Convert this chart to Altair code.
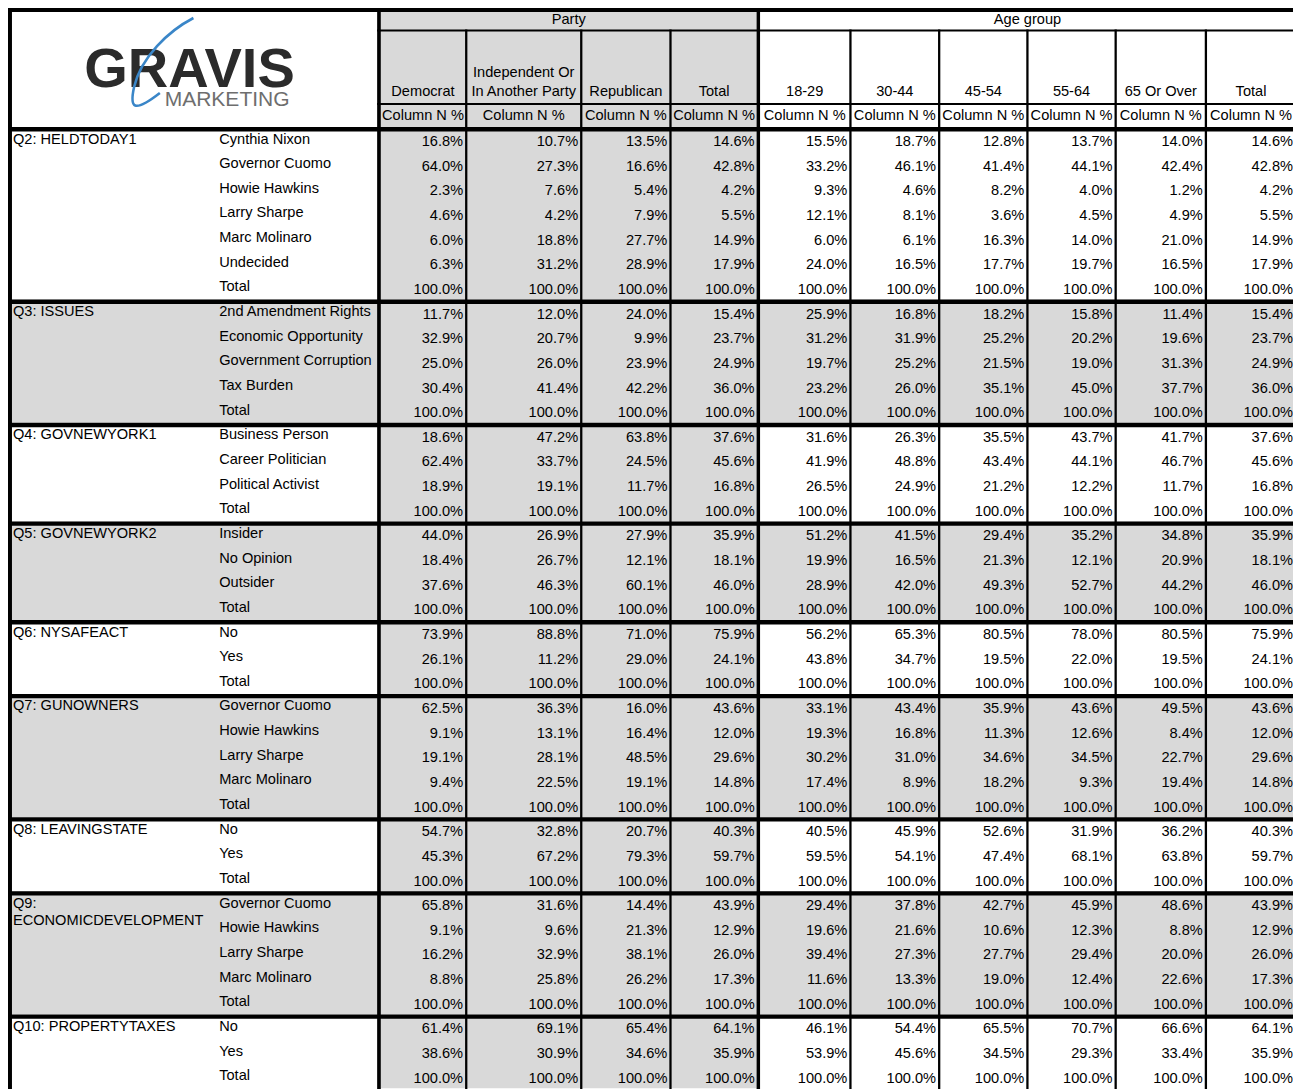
import altair as alt
import pandas as pd

# ---------------- data ----------------
party_title = "Party"
age_title = "Age group"
party_cols = ["Democrat", "Independent Or\nIn Another Party", "Republican", "Total"]
age_cols = ["18-29", "30-44", "45-54", "55-64", "65 Or Over", "Total"]
stat_label = "Column N %"
logo_word = "GRAVIS"
logo_sub = "MARKETING"

questions = ["Q2: HELDTODAY1", "Q3: ISSUES", "Q4: GOVNEWYORK1", "Q5: GOVNEWYORK2",
             "Q6: NYSAFEACT", "Q7: GUNOWNERS", "Q8: LEAVINGSTATE",
             "Q9: ECONOMICDEVELOPMENT", "Q10: PROPERTYTAXES"]

q2_options = ["Cynthia Nixon", "Governor Cuomo", "Howie Hawkins", "Larry Sharpe", "Marc Molinaro", "Undecided", "Total"]
q2_party = [[16.8, 10.7, 13.5, 14.6], [64.0, 27.3, 16.6, 42.8], [2.3, 7.6, 5.4, 4.2], [4.6, 4.2, 7.9, 5.5],
            [6.0, 18.8, 27.7, 14.9], [6.3, 31.2, 28.9, 17.9], [100.0, 100.0, 100.0, 100.0]]
q2_age = [[15.5, 18.7, 12.8, 13.7, 14.0, 14.6], [33.2, 46.1, 41.4, 44.1, 42.4, 42.8], [9.3, 4.6, 8.2, 4.0, 1.2, 4.2],
          [12.1, 8.1, 3.6, 4.5, 4.9, 5.5], [6.0, 6.1, 16.3, 14.0, 21.0, 14.9], [24.0, 16.5, 17.7, 19.7, 16.5, 17.9],
          [100.0, 100.0, 100.0, 100.0, 100.0, 100.0]]

q3_options = ["2nd Amendment Rights", "Economic Opportunity", "Government Corruption", "Tax Burden", "Total"]
q3_party = [[11.7, 12.0, 24.0, 15.4], [32.9, 20.7, 9.9, 23.7], [25.0, 26.0, 23.9, 24.9], [30.4, 41.4, 42.2, 36.0],
            [100.0, 100.0, 100.0, 100.0]]
q3_age = [[25.9, 16.8, 18.2, 15.8, 11.4, 15.4], [31.2, 31.9, 25.2, 20.2, 19.6, 23.7], [19.7, 25.2, 21.5, 19.0, 31.3, 24.9],
          [23.2, 26.0, 35.1, 45.0, 37.7, 36.0], [100.0, 100.0, 100.0, 100.0, 100.0, 100.0]]

q4_options = ["Business Person", "Career Politician", "Political Activist", "Total"]
q4_party = [[18.6, 47.2, 63.8, 37.6], [62.4, 33.7, 24.5, 45.6], [18.9, 19.1, 11.7, 16.8], [100.0, 100.0, 100.0, 100.0]]
q4_age = [[31.6, 26.3, 35.5, 43.7, 41.7, 37.6], [41.9, 48.8, 43.4, 44.1, 46.7, 45.6], [26.5, 24.9, 21.2, 12.2, 11.7, 16.8],
          [100.0, 100.0, 100.0, 100.0, 100.0, 100.0]]

q5_options = ["Insider", "No Opinion", "Outsider", "Total"]
q5_party = [[44.0, 26.9, 27.9, 35.9], [18.4, 26.7, 12.1, 18.1], [37.6, 46.3, 60.1, 46.0], [100.0, 100.0, 100.0, 100.0]]
q5_age = [[51.2, 41.5, 29.4, 35.2, 34.8, 35.9], [19.9, 16.5, 21.3, 12.1, 20.9, 18.1], [28.9, 42.0, 49.3, 52.7, 44.2, 46.0],
          [100.0, 100.0, 100.0, 100.0, 100.0, 100.0]]

q6_options = ["No", "Yes", "Total"]
q6_party = [[73.9, 88.8, 71.0, 75.9], [26.1, 11.2, 29.0, 24.1], [100.0, 100.0, 100.0, 100.0]]
q6_age = [[56.2, 65.3, 80.5, 78.0, 80.5, 75.9], [43.8, 34.7, 19.5, 22.0, 19.5, 24.1], [100.0, 100.0, 100.0, 100.0, 100.0, 100.0]]

q7_options = ["Governor Cuomo", "Howie Hawkins", "Larry Sharpe", "Marc Molinaro", "Total"]
q7_party = [[62.5, 36.3, 16.0, 43.6], [9.1, 13.1, 16.4, 12.0], [19.1, 28.1, 48.5, 29.6], [9.4, 22.5, 19.1, 14.8],
            [100.0, 100.0, 100.0, 100.0]]
q7_age = [[33.1, 43.4, 35.9, 43.6, 49.5, 43.6], [19.3, 16.8, 11.3, 12.6, 8.4, 12.0], [30.2, 31.0, 34.6, 34.5, 22.7, 29.6],
          [17.4, 8.9, 18.2, 9.3, 19.4, 14.8], [100.0, 100.0, 100.0, 100.0, 100.0, 100.0]]

q8_options = ["No", "Yes", "Total"]
q8_party = [[54.7, 32.8, 20.7, 40.3], [45.3, 67.2, 79.3, 59.7], [100.0, 100.0, 100.0, 100.0]]
q8_age = [[40.5, 45.9, 52.6, 31.9, 36.2, 40.3], [59.5, 54.1, 47.4, 68.1, 63.8, 59.7], [100.0, 100.0, 100.0, 100.0, 100.0, 100.0]]

q9_options = ["Governor Cuomo", "Howie Hawkins", "Larry Sharpe", "Marc Molinaro", "Total"]
q9_party = [[65.8, 31.6, 14.4, 43.9], [9.1, 9.6, 21.3, 12.9], [16.2, 32.9, 38.1, 26.0], [8.8, 25.8, 26.2, 17.3],
            [100.0, 100.0, 100.0, 100.0]]
q9_age = [[29.4, 37.8, 42.7, 45.9, 48.6, 43.9], [19.6, 21.6, 10.6, 12.3, 8.8, 12.9], [39.4, 27.3, 27.7, 29.4, 20.0, 26.0],
          [11.6, 13.3, 19.0, 12.4, 22.6, 17.3], [100.0, 100.0, 100.0, 100.0, 100.0, 100.0]]

q10_options = ["No", "Yes", "Total"]
q10_party = [[61.4, 69.1, 65.4, 64.1], [38.6, 30.9, 34.6, 35.9], [100.0, 100.0, 100.0, 100.0]]
q10_age = [[46.1, 54.4, 65.5, 70.7, 66.6, 64.1], [53.9, 45.6, 34.5, 29.3, 33.4, 35.9], [100.0, 100.0, 100.0, 100.0, 100.0, 100.0]]

blocks = [(q2_options, q2_party, q2_age), (q3_options, q3_party, q3_age), (q4_options, q4_party, q4_age),
          (q5_options, q5_party, q5_age), (q6_options, q6_party, q6_age), (q7_options, q7_party, q7_age),
          (q8_options, q8_party, q8_age), (q9_options, q9_party, q9_age), (q10_options, q10_party, q10_age)]

# ---------------- layout (reference pixel coordinates) ----------------
VW, VH = 1285, 1081          # drawable view size
XD = (5, 1301)               # reference x-range squeezed into the view
YD = (8, 1089)               # reference y-range shown 1:1
FONT = "Liberation Sans"
FS = 14.6
GRAY = "#d9d9d9"
BLACK = "#000000"

X0 = 5
LEFT_IN = 9
THICK_A = (377.3, 381.0)
THICK_B = (760.0, 763.5)
party_lines = [466.0, 582.0, 672.0]
age_lines = [853.5, 943.0, 1032.0, 1121.0, 1212.0]
THIN = 2.3
RIGHT_END = 1303.0
party_left = [THICK_A[1]] + [v + THIN for v in party_lines]
party_right = party_lines + [THICK_B[0]]
age_left = [THICK_B[1]] + [v + THIN for v in age_lines]
age_right = age_lines + [RIGHT_END]

TOP_LINE = (8.0, 12.0)
HDR1_LINE = 29.5
HDR2_LINE = 103.0
G0 = 127.0
PITCH = 24.65
SEP = 4.4
BOTTOM = 1095.0

bg, lines, txt_l, txt_r, txt_c = [], [], [], [], []


def rect(store, x, x2, y, y2, fill):
    store.append({"x": x, "x2": x2, "y": y, "y2": y2, "fill": fill})


# header backgrounds
rect(bg, party_left[0], THICK_B[0], TOP_LINE[1], G0, GRAY)

# header texts
txt_c.append({"x": (party_left[0] + THICK_B[0]) / 2, "y": 24, "t": party_title})
txt_c.append({"x": (age_left[0] + RIGHT_END) / 2, "y": 24, "t": age_title})
for names, lefts, rights in ((party_cols, party_left, party_right), (age_cols, age_left, age_right)):
    for name, l, r in zip(names, lefts, rights):
        parts = name.split("\n")
        n = len(parts)
        for i, p in enumerate(parts):
            txt_c.append({"x": (l + r) / 2, "y": 96 - (n - 1 - i) * 19, "t": p})
        txt_c.append({"x": (l + r) / 2, "y": 120, "t": stat_label})

# body
row = 0
for gi, (q, (opts, pv, av)) in enumerate(zip(questions, blocks)):
    top = G0 + row * PITCH
    bottom = G0 + (row + len(opts)) * PITCH
    if gi % 2 == 1:
        rect(bg, LEFT_IN, RIGHT_END, top, bottom, GRAY)
    else:
        rect(bg, party_left[0], THICK_B[0], top, bottom, GRAY)
    qlines = q.replace(": ", ":\n").split("\n") if len(q) > 20 else [q]
    for i, ql in enumerate(qlines):
        txt_l.append({"x": 10, "y": top + 16.5 + i * 17, "t": ql})
    for k, opt in enumerate(opts):
        rt = G0 + (row + k) * PITCH
        txt_l.append({"x": 218, "y": rt + 16.5, "t": opt})
        for v, r in zip(pv[k], party_right):
            txt_r.append({"x": r - 2.0, "y": rt + 19, "t": f"{v:.1f}%"})
        for v, r in zip(av[k], age_right):
            txt_r.append({"x": r - 2.0, "y": rt + 19, "t": f"{v:.1f}%"})
    if gi > 0:
        rect(lines, X0, RIGHT_END, top, top + SEP, BLACK)
    row += len(opts)

# grid lines
rect(lines, X0, RIGHT_END, TOP_LINE[0], TOP_LINE[1], BLACK)
rect(lines, THICK_A[0], RIGHT_END, HDR1_LINE, HDR1_LINE + 2, BLACK)
rect(lines, THICK_A[0], RIGHT_END, HDR2_LINE, HDR2_LINE + 2, BLACK)
rect(lines, X0, RIGHT_END, G0, G0 + SEP, BLACK)
rect(lines, X0, LEFT_IN, TOP_LINE[0], BOTTOM, BLACK)
rect(lines, THICK_A[0], THICK_A[1], TOP_LINE[0], BOTTOM, BLACK)
rect(lines, THICK_B[0], THICK_B[1], TOP_LINE[0], BOTTOM, BLACK)
for v in party_lines + age_lines:
    rect(lines, v, v + THIN, HDR1_LINE, BOTTOM, BLACK)

xs = alt.Scale(domain=list(XD), range=[0, VW], nice=False, zero=False)
ys = alt.Scale(domain=list(YD), range=[0, VH], nice=False, zero=False)


def rect_layer(records):
    return alt.Chart(pd.DataFrame(records)).mark_rect(strokeWidth=0).encode(
        x=alt.X("x:Q", scale=xs, axis=None), x2="x2:Q",
        y=alt.Y("y:Q", scale=ys, axis=None), y2="y2:Q",
        color=alt.Color("fill:N", scale=None))


def text_layer(records, align, **kw):
    opts = dict(align=align, baseline="alphabetic", font=FONT, fontSize=FS, color=BLACK)
    opts.update(kw)
    return alt.Chart(pd.DataFrame(records)).mark_text(**opts).encode(
        x=alt.X("x:Q", scale=xs, axis=None), y=alt.Y("y:Q", scale=ys, axis=None), text="t:N")


swoosh = "M 0.69 -1 C 0.15 -0.72 -0.45 -0.15 -0.6 0.5 C -0.7 0.95 -0.62 1.08 -0.04 0.63"
logo_pt = alt.Chart(pd.DataFrame([{"x": 160, "y": 64}])).mark_point(
    shape=swoosh, filled=False, size=92 * 92, strokeWidth=2.6, color="#3a86c8", opacity=1).encode(
    x=alt.X("x:Q", scale=xs, axis=None), y=alt.Y("y:Q", scale=ys, axis=None))

logo_main = text_layer([{"x": 188, "y": 87, "t": logo_word}], "center",
                       fontSize=56, fontWeight="bold", color="#2b2b2b")
logo_small = text_layer([{"x": 226, "y": 106, "t": logo_sub}], "center",
                        fontSize=21, color="#6e6e6e")

chart = alt.layer(
    rect_layer(bg),
    rect_layer(lines),
    text_layer(txt_l, "left"),
    text_layer(txt_r, "right"),
    text_layer(txt_c, "center"),
    logo_main,
    logo_small,
    logo_pt,
).properties(
    width=VW, height=VH,
    autosize=alt.AutoSizeParams(type="none"),
    padding=0,
    background="white",
).configure_view(stroke=None)

chart.save("out.html", embed_options={"renderer": "svg", "actions": False})
